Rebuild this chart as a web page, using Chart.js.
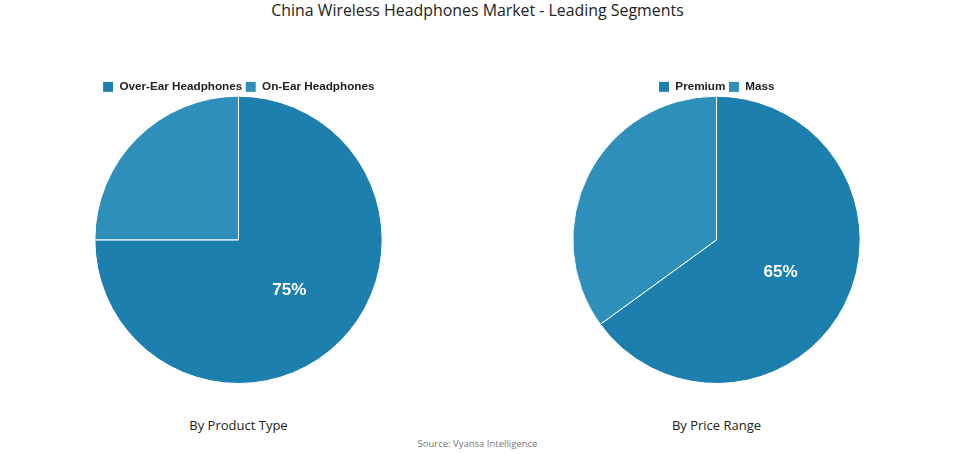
<!DOCTYPE html>
<html><head><meta charset="utf-8">
<script src="https://cdn.jsdelivr.net/npm/chart.js@4"></script>
<style>
body{margin:0;width:955px;height:454px;background:#fff;position:relative;font-family:"Open Sans",sans-serif;overflow:hidden}
.t{position:absolute;left:0;width:955px;text-align:center;color:#222}
.box{position:absolute;top:78px;width:477px;height:306px}
</style></head><body>
<div class="t" style="top:-1px;font-size:15.9px;">China Wireless Headphones Market - Leading Segments</div>
<div class="box" style="left:0"><canvas id="c1"></canvas></div>
<div class="box" style="left:478px"><canvas id="c2"></canvas></div>
<div class="t" style="top:416px;left:0;width:477px;font-size:13px">By Product Type</div>
<div class="t" style="top:416px;left:478px;width:477px;font-size:13px">By Price Range</div>
<div class="t" style="top:437px;font-size:9.5px;color:#777">Source: Vyansa Intelligence</div>
<script>
const productTypes=["Over-Ear Headphones","On-Ear Headphones"];
const productValues=[75,25];
const priceRanges=["Premium","Mass"];
const priceValues=[65,35];
const colors=["#1c7fae","#2e8fbb"];
const shrink={id:'shrink',beforeInit(ch){const f=ch.legend.fit;ch.legend.fit=function(){f.call(this);this.height-=7;};}};
const lbl={id:'lbl',afterDatasetsDraw(ch){const ctx=ch.ctx;const a=ch.getDatasetMeta(0).data[0];const p=a.tooltipPosition();ctx.save();ctx.fillStyle='#fff';ctx.font='bold 17px "Liberation Sans",Arial';ctx.textAlign='center';ctx.textBaseline='middle';ctx.fillText(ch.data.datasets[0].data[0]+'%',p.x,p.y);ctx.restore();}};
function mk(id,labels,vals){new Chart(document.getElementById(id),{type:'pie',data:{labels:labels,datasets:[{data:vals,backgroundColor:colors,borderColor:'#fff',borderWidth:1}]},options:{responsive:true,maintainAspectRatio:false,animation:false,layout:{padding:0},plugins:{tooltip:{enabled:false},legend:{position:'top',labels:{boxWidth:11,boxHeight:11,padding:3,color:'#222',font:{family:'"Liberation Sans",Arial',weight:'bold',size:11.7}}}}},plugins:[shrink,lbl]});}
mk('c1',productTypes,productValues);
mk('c2',priceRanges,priceValues);
</script></body></html>
